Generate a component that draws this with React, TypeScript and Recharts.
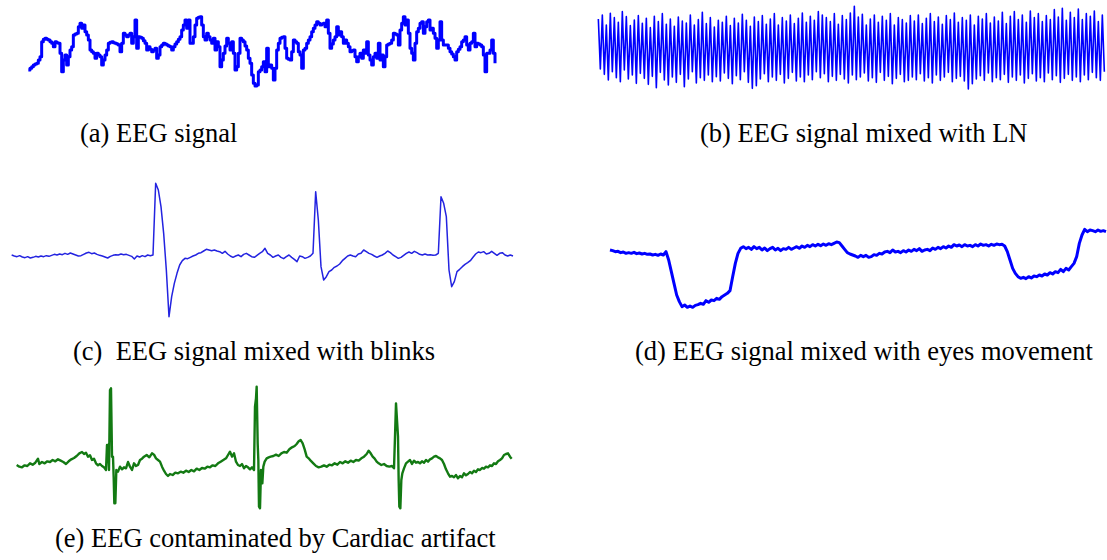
import React from 'react';
import { LineChart, Line, XAxis, YAxis } from 'recharts';

// (a) clean EEG signal, uniform sampling (start 25, step 5)
const eegSignal = [
  90,95,100,105,108,110,120,130,175,182,185,182,180,175,170,
  160,175,172,170,140,85,120,135,105,130,150,160,195,198,200,220,230,215,225,205,
  195,180,150,145,140,125,140,135,130,105,120,135,150,170,173,175,172,170,168,165,
  145,170,200,195,190,195,200,170,190,240,155,190,188,185,178,170,150,160,152,145,
  150,155,125,135,160,165,170,168,165,162,160,150,160,168,175,182,190,210,225,240,
  215,240,170,170,190,225,245,248,250,225,190,180,200,190,180,170,185,150,175,160,
  100,120,140,162,185,170,150,175,140,90,100,140,185,180,175,162,150,125,110,75,
  50,42,45,85,90,100,115,85,155,100,105,95,60,95,150,170,185,188,190,155,
  125,122,120,145,180,175,170,145,135,95,150,155,170,180,190,205,215,225,235,230,
  225,228,230,220,240,200,155,168,180,190,220,195,205,190,170,180,170,160,145,148,
  150,130,115,130,140,125,150,140,175,135,120,105,130,140,125,170,120,135,100,130,
  165,168,170,180,200,198,195,165,210,230,250,225,240,200,155,140,120,170,205,215,
  230,235,200,220,235,240,210,215,200,185,155,180,235,180,165,165,165,155,145,138,
  130,120,145,152,160,175,180,190,165,150,170,175,200,160,170,168,165,160,135,85,
  140,140,150,180,140,110,
];

// (b) EEG mixed with line noise (start 25, step 6)
const lnSignal = [
  88,-62,100,-78,70,-95,105,-70,92,-88,78,-100,110,-65,95,-92,68,-80,85,-105,
  98,-75,75,-90,90,-108,62,-84,96,-118,80,-72,104,-95,72,-110,88,-86,66,-102,
  94,-78,82,-115,76,-92,100,-70,70,-104,86,-88,108,-96,74,-80,92,-100,64,-85,
  84,-98,78,-74,96,-90,68,-106,90,-82,76,-94,102,-70,84,-102,66,-120,94,-112,
  80,-92,98,-76,72,-100,88,-86,104,-96,70,-78,92,-104,82,-90,100,-72,74,-98,
  90,-86,106,-100,78,-80,96,-94,84,-70,110,-88,100,-76,92,-100,80,-84,104,-96,
  72,-78,98,-92,86,-104,106,-80,126,-94,94,-86,102,-74,70,-98,88,-88,100,-102,
  78,-72,96,-96,84,-84,104,-106,70,-90,92,-78,86,-100,76,-96,98,-86,82,-94,
  100,-76,74,-98,90,-88,104,-104,80,-80,94,-96,72,-86,98,-72,86,-100,106,-90,
  78,-84,92,-98,84,-122,100,-106,70,-92,96,-82,88,-96,104,-74,76,-100,94,-88,
  82,-94,108,-78,74,-102,96,-86,110,-96,86,-80,100,-104,78,-90,112,-76,92,-98,
  104,-88,80,-100,98,-74,86,-94,116,-82,94,-102,120,-90,84,-78,108,-96,92,-86,
  118,-100,86,-80,104,-94,96,-72,112,-88,80,-96,100,-70,
];

// (c) EEG mixed with blinks (start 35, step 8)
const blinkSignal = [
  0,-3,-5,-2,-6,-8,-5,-9,-7,-4,-6,-3,-5,-2,-4,-1,2,0,3,1,
  5,2,6,3,0,-3,-2,2,6,8,4,6,2,-1,-3,-6,-9,-4,-1,1,
  0,3,1,2,-1,-4,-12,-3,-6,-2,-5,0,-2,0,
  215,195,145,65,-45,-185,-125,-85,-55,-30,-17,-10,-11,-7,-3,0,5,7,12,17,
  15,13,15,12,10,5,11,3,-3,-7,-3,0,-5,2,5,0,-5,-7,-1,5,
  10,20,5,0,-7,-3,0,-7,-11,-5,0,-7,-13,-20,-3,-5,-10,-7,-3,5,
  190,105,-35,-75,-65,-50,-45,-37,-33,-27,-17,-10,-3,0,-3,-5,3,5,15,10,
  5,2,-3,-7,-3,0,5,12,7,0,-5,-10,-7,-1,5,9,5,11,7,2,0,3,0,1,-1,0,5,
  175,155,115,-45,-95,-80,-50,-43,-35,-28,-23,-17,-7,3,9,7,10,3,5,11,
  5,-1,5,7,0,-3,0,-3,
];

// (d) EEG mixed with eyes movement (start 30, step 8)
const eyeSignal = [
  0,-2,-5,-4,-8,-6,-10,-8,-10,-7,-11,-9,-12,-10,-13,-12,-15,-13,-16,-12,-15,-5,
  -30,-65,-100,-135,-155,-170,-165,-172,-168,-172,-166,-164,-160,-163,-152,-157,-150,-152,-145,-148,-140,-135,-130,-122,-80,-40,-10,5,
  10,4,8,2,10,4,8,0,6,-2,4,8,0,5,-2,4,2,8,2,6,10,5,12,8,14,10,16,12,17,13,18,14,19,16,20,24,22,
  12,2,-8,-12,-15,-18,-22,-16,-20,-16,-22,-20,-14,-16,-10,-12,-6,-4,-8,0,
  -6,-4,-8,-2,-6,0,-4,2,-2,4,-4,0,2,-2,6,2,8,4,10,6,
  12,8,16,12,15,10,16,12,14,10,16,12,18,14,16,12,17,14,18,16,17,12,
  -5,-30,-55,-70,-80,-85,-82,-86,-80,-84,-78,-80,-75,-78,-72,-75,-68,-72,-65,-68,
  -58,-65,-55,-60,-50,-40,-20,20,45,62,55,60,58,55,60,56,58,55,
];

// (e) EEG contaminated by cardiac artifact: [time, value]
const cardiacSamples: [number, number][] = [
  [50,0],[58,-5],[66,-7],[74,-1],[82,-3],[90,5],[98,1],[106,7],[114,19],[118,3],
  [126,9],[134,5],[142,11],[150,9],[158,15],[166,11],[174,17],[182,13],[190,9],[198,3],
  [206,11],[214,17],[222,21],[230,27],[238,35],[246,39],[252,33],[258,37],[264,25],[270,29],
  [276,15],[282,19],[288,5],[294,-1],[300,3],[306,-3],[312,-7],[318,-15],[321,60],[324,60],
  [327,-15],[330,225],[333,230],[336,25],[339,25],[341,-35],[343,-115],[346,-115],[349,-15],[354,-20],
  [360,-5],[366,-13],[372,-7],[378,-10],[384,9],[390,-5],[396,-15],[402,5],[408,-3],[414,0],
  [420,15],[426,19],[432,25],[440,30],[448,23],[456,35],[462,31],[468,20],[474,15],[480,10],
  [486,-5],[492,-17],[498,-27],[504,-33],[510,-27],[518,-30],[526,-23],[534,-25],[542,-20],[550,-23],
  [558,-17],[566,-21],[574,-15],[582,-19],[590,-11],[598,-15],[606,-9],[614,-11],[622,-5],[630,-7],
  [638,-1],[646,-3],[654,5],[662,10],[670,15],[678,20],[684,30],[690,40],[696,25],[702,35],
  [708,10],[714,0],[720,-3],[726,3],[732,-10],[738,-3],[744,-7],[750,-13],[756,-7],[762,-15],
  [765,175],[768,200],[770,235],[773,65],[775,15],[777,-125],[780,-130],[783,-15],[787,-55],[790,-5],
  [794,10],[800,20],[806,23],[812,25],[820,27],[828,31],[836,27],[844,35],[852,39],[860,37],
  [868,47],[876,53],[884,57],[890,63],[896,71],[902,75],[908,65],[914,47],[920,25],[926,20],
  [932,13],[940,5],[948,-3],[956,-7],[964,-5],[972,-1],[980,-5],[988,1],[996,-1],[1004,5],
  [1012,1],[1020,9],[1028,5],[1036,11],[1044,7],[1052,13],[1060,9],[1068,15],[1076,13],[1084,20],
  [1092,25],[1100,33],[1106,43],[1112,35],[1118,25],[1124,19],[1130,10],[1136,5],[1144,0],[1152,3],
  [1160,-3],[1168,-5],[1176,-3],[1182,-10],[1185,85],[1188,185],[1191,135],[1194,85],[1196,-45],[1198,-125],
  [1201,-130],[1204,-45],[1207,-25],[1212,-10],[1218,5],[1224,10],[1230,15],[1236,3],[1242,13],[1248,7],
  [1254,9],[1260,5],[1266,11],[1272,7],[1278,15],[1284,10],[1290,17],[1296,20],[1302,25],[1308,27],
  [1314,23],[1320,20],[1326,15],[1332,3],[1338,-13],[1344,-25],[1350,-35],[1356,-33],[1362,-37],[1368,-30],
  [1374,-40],[1380,-33],[1386,-37],[1392,-25],[1398,-31],[1404,-27],[1410,-21],[1416,-25],[1422,-17],[1428,-21],
  [1434,-13],[1440,-15],[1446,-9],[1452,-11],[1458,-5],[1464,-7],[1470,-1],[1476,-3],[1482,5],[1488,3],
  [1494,11],[1500,15],[1506,20],[1512,30],[1518,33],[1524,35],[1530,25],[1535,19],
];

const captions = [
  { text: '(a) EEG signal', x: 80, y: 142 },
  { text: '(b) EEG signal mixed with LN', x: 700, y: 142 },
  { text: '(c)  EEG signal mixed with blinks', x: 73, y: 360 },
  { text: '(d) EEG signal mixed with eyes movement', x: 635, y: 360 },
  { text: '(e) EEG contaminated by Cardiac artifact', x: 55, y: 547 },
];

const uniform = (values: number[], start: number, step: number) =>
  values.map((v, i) => ({ t: start + i * step, v }));

type PanelProps = {
  left: number; top: number; width: number; height: number;
  data: { t: number; v: number }[];
  xDomain: [number, number]; yDomain: [number, number];
  color: string; strokeWidth: number;
  curve?: 'linear' | 'stepAfter';
};

function Panel({ left, top, width, height, data, xDomain, yDomain, color, strokeWidth, curve = 'linear' }: PanelProps) {
  return (
    <div style={{ position: 'absolute', left, top, width, height }}>
      <LineChart width={width} height={height} data={data} margin={{ top: 0, right: 0, bottom: 0, left: 0 }}>
        <XAxis type="number" dataKey="t" domain={xDomain} hide allowDataOverflow />
        <YAxis type="number" domain={yDomain} hide allowDataOverflow />
        <Line
          type={curve}
          dataKey="v"
          stroke={color}
          strokeWidth={strokeWidth}
          dot={false}
          isAnimationActive={false}
          strokeLinejoin="round"
        />
      </LineChart>
    </div>
  );
}

export default function App() {
  return (
    <div style={{ position: 'absolute', left: 0, top: 0, width: 1107, height: 560, background: '#fff', overflow: 'hidden' }}>
      <Panel left={20} top={0} width={490} height={100} data={uniform(eegSignal, 25, 5)}
        xDomain={[0, 1470]} yDomain={[0, 300]} color="#0000ff" strokeWidth={3} curve="stepAfter" />
      <Panel left={590} top={0} width={517} height={100} data={uniform(lnSignal, 25, 6)}
        xDomain={[0, 1551]} yDomain={[-155, 145]} color="#0000ff" strokeWidth={1.6} />
      <Panel left={0} top={170} width={530} height={160} data={uniform(blinkSignal, 35, 8)}
        xDomain={[0, 1590]} yDomain={[-225, 255]} color="#2323e0" strokeWidth={1.5} />
      <Panel left={600} top={210} width={507} height={110} data={uniform(eyeSignal, 30, 8)}
        xDomain={[0, 1521]} yDomain={[-210, 120]} color="#0000ff" strokeWidth={3} />
      <Panel left={0} top={360} width={530} height={150} data={cardiacSamples.map(([t, v]) => ({ t, v }))}
        xDomain={[0, 1590]} yDomain={[-135, 315]} color="#137a13" strokeWidth={2.4} />
      <svg width={1107} height={560} style={{ position: 'absolute', left: 0, top: 0, pointerEvents: 'none' }}>
        {captions.map((c) => (
          <text key={c.text} x={c.x} y={c.y} fontFamily="'Liberation Serif', 'Times New Roman', serif"
            fontSize={26.5} fill="#000" style={{ whiteSpace: 'pre' }}>
            {c.text}
          </text>
        ))}
      </svg>
    </div>
  );
}
